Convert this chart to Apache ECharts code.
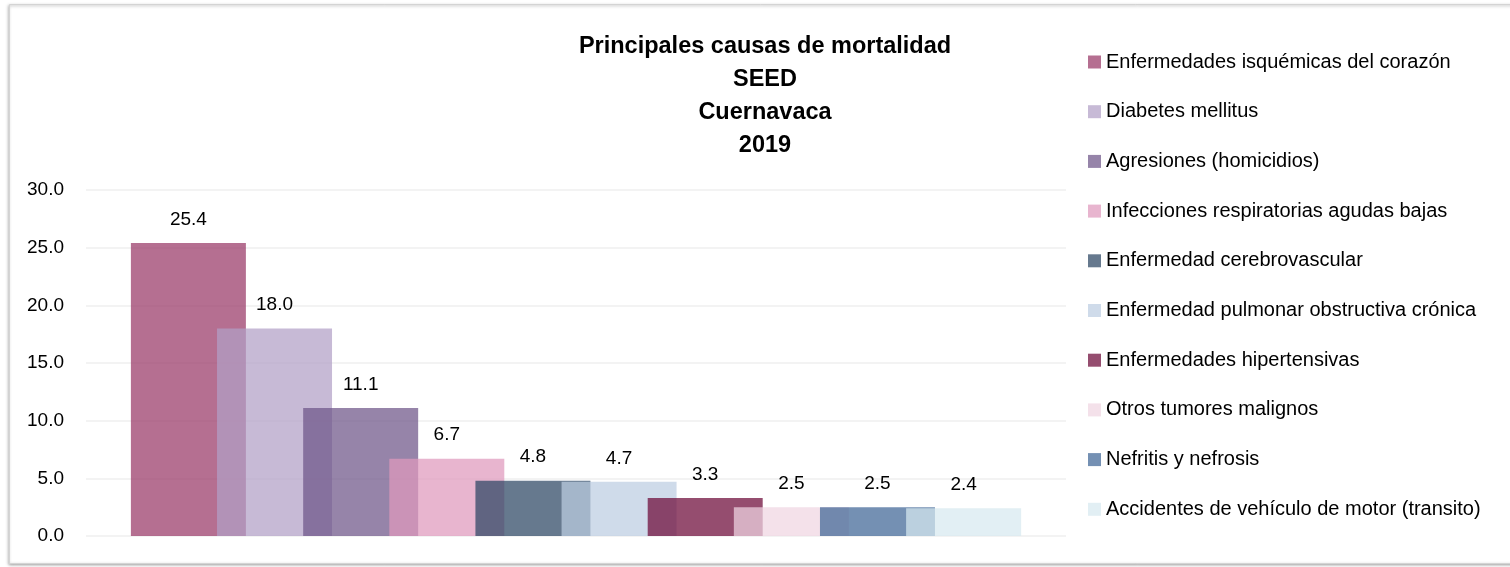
<!DOCTYPE html>
<html>
<head>
<meta charset="utf-8">
<script src="https://cdn.jsdelivr.net/npm/echarts@6/dist/echarts.min.js"></script>
<style>
  html, body { margin: 0; padding: 0; background: #fff; }
  #root { width: 1510px; height: 567px; }
</style>
</head>
<body>
<div id="root"></div>
<script>
var causes = [
  'Enfermedades isquémicas del corazón',
  'Diabetes mellitus',
  'Agresiones (homicidios)',
  'Infecciones respiratorias agudas bajas',
  'Enfermedad cerebrovascular',
  'Enfermedad pulmonar obstructiva crónica',
  'Enfermedades hipertensivas',
  'Otros tumores malignos',
  'Nefritis y nefrosis',
  'Accidentes de vehículo de motor (transito)'
];
var rates = [25.4, 18.0, 11.1, 6.7, 4.8, 4.7, 3.3, 2.5, 2.5, 2.4];
// colores con transparencia, como en el original
var colors = ['rgba(152,55,102,0.72)', 'rgba(177,160,198,0.72)', 'rgba(109,85,136,0.72)',
  'rgba(223,152,188,0.72)', 'rgba(43,69,99,0.72)', 'rgba(188,205,226,0.72)',
  'rgba(108,9,56,0.72)', 'rgba(240,213,226,0.72)', 'rgba(63,101,149,0.72)',
  'rgba(215,233,240,0.72)'];
var titleLines = ['Principales causas de mortalidad', 'SEED', 'Cuernavaca', '2019'];

var font = '"Liberation Sans Narrow", "Arial Narrow", "Liberation Sans", Arial, sans-serif';

var chart = echarts.init(document.getElementById('root'));

// una serie por causa, todas en la misma categoría y encimadas
var series = causes.map(function (name, i) {
  return {
    name: name,
    type: 'bar',
    data: [rates[i]],
    barWidth: 115,
    barGap: '-25.1%',
    itemStyle: { color: colors[i] },
    label: {
      show: true,
      position: 'top',
      distance: 14,
      color: '#000',
      fontFamily: font,
      fontSize: 19,
      formatter: function (p) { return p.value.toFixed(1); }
    }
  };
});

chart.setOption({
  animation: false,
  title: {
    text: titleLines.join('\n'),
    left: 760,
    top: 25,
    textAlign: 'center',
    textStyle: {
      fontFamily: font,
      fontSize: 23.5,
      fontWeight: 'bold',
      color: '#000',
      lineHeight: 33
    }
  },
  legend: {
    orient: 'vertical',
    left: 1088,
    top: 51,
    padding: 0,
    itemWidth: 13,
    itemHeight: 13,
    itemGap: 27.7,
    icon: 'rect',
    textStyle: { fontFamily: font, fontSize: 20, color: '#000', lineHeight: 22 },
    selectedMode: false
  },
  grid: { left: 86, right: 444, top: 190, bottom: 31 },
  xAxis: {
    type: 'category',
    data: [''],
    axisLine: { show: false },
    axisTick: { show: false },
    axisLabel: { show: false }
  },
  yAxis: {
    type: 'value',
    min: 0,
    max: 30,
    interval: 5,
    axisLine: { show: false },
    axisTick: { show: false },
    axisLabel: {
      margin: 22,
      color: '#000',
      fontFamily: font,
      fontSize: 19,
      formatter: function (v) { return v.toFixed(1); }
    },
    splitLine: { lineStyle: { color: '#efefef', width: 1.5 } }
  },
  graphic: [{
    type: 'rect',
    silent: true,
    z: -10,
    shape: { x: 9.5, y: 4.5, width: 1510, height: 559 },
    style: {
      fill: '#fff',
      stroke: '#d4d4d4',
      lineWidth: 1,
      shadowBlur: 3,
      shadowOffsetX: -1,
      shadowOffsetY: 1,
      shadowColor: 'rgba(0,0,0,0.35)'
    }
  }],
  series: series
});
</script>
</body>
</html>
